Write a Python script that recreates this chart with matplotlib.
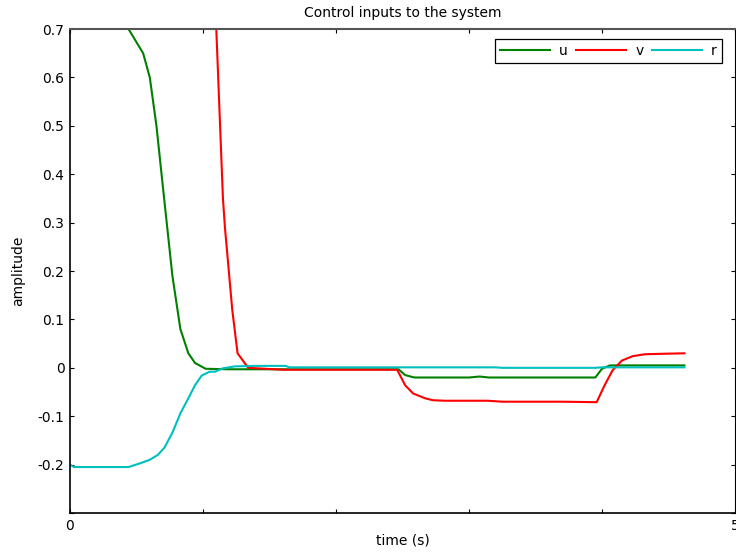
import numpy as np
import matplotlib.pyplot as plt

# control inputs
t_u = [0.0, 0.30, 0.44, 0.55, 0.60, 0.65, 0.70, 0.77, 0.83, 0.89, 0.94, 1.02, 1.20,
       2.47, 2.52, 2.59, 3.00, 3.08, 3.15, 3.95, 4.00, 4.06, 4.62]
u = [1.20, 0.85, 0.70, 0.65, 0.60, 0.50, 0.37, 0.19, 0.08, 0.03, 0.01, -0.002, -0.003,
     -0.003, -0.015, -0.020, -0.020, -0.018, -0.020, -0.020, -0.002, 0.005, 0.005]

t_v = [0.0, 0.90, 1.10, 1.15, 1.165, 1.22, 1.26, 1.34, 1.60,
       2.46, 2.52, 2.58, 2.67, 2.73, 2.82, 3.14, 3.25, 3.70, 3.96,
       4.02, 4.08, 4.15, 4.23, 4.32, 4.45, 4.62]
v = [2.50, 1.40, 0.70, 0.35, 0.29, 0.12, 0.03, 0.000, -0.004,
     -0.004, -0.036, -0.053, -0.063, -0.067, -0.068, -0.068, -0.070, -0.070, -0.071,
     -0.036, -0.005, 0.015, 0.024, 0.028, 0.029, 0.030]

t_r = [0.0, 0.03, 0.44, 0.53, 0.60, 0.66, 0.71, 0.77, 0.83, 0.89, 0.94, 0.99,
       1.05, 1.09, 1.15, 1.24, 1.39, 1.62, 1.65, 3.20, 3.25, 3.95, 4.00, 4.62]
r = [-0.200, -0.205, -0.205, -0.197, -0.190, -0.180, -0.165, -0.134, -0.094, -0.063,
     -0.036, -0.016, -0.008, -0.008, -0.001, 0.003, 0.004, 0.004, 0.001, 0.001,
     0.000, 0.000, 0.001, 0.001]

plt.rcParams['font.family'] = 'DejaVu Sans'
plt.rcParams['font.size'] = 10

fig = plt.figure(figsize=(7.36, 5.56), dpi=100)
ax = fig.add_axes([0.0951, 0.0773, 0.9035, 0.8705])

ax.plot(t_u, u, color='#008000', lw=1.5, label='u')
ax.plot(t_v, v, color='#ff0000', lw=1.5, label='v')
ax.plot(t_r, r, color='#00bfbf', lw=1.5, label='r')

ax.set_xlim(0, 5)
ax.set_ylim(-0.3, 0.7)
ax.set_xticks([0, 1, 2, 3, 4, 5])
ax.set_xticklabels(['0', '', '', '', '', '5'])
ax.set_yticks(np.round(np.arange(-0.3, 0.71, 0.1), 1))
ax.set_yticklabels(['', '-0.2', '-0.1', '0', '0.1', '0.2', '0.3', '0.4', '0.5', '0.6', '0.7'])
ax.tick_params(direction='in', top=True, right=True, length=3, width=0.8, pad=4,
               labelsize=10)

for s in ['left', 'bottom']:
    ax.spines[s].set_linewidth(1.2)
ax.spines['top'].set_color('#555555')
ax.spines['top'].set_linewidth(1.5)

ax.set_title('Control inputs to the system', fontsize=10, pad=9)
ax.set_xlabel('time (s)', fontsize=10, labelpad=1)
ax.set_ylabel('amplitude', fontsize=10, labelpad=9)

leg = ax.legend(ncol=3, loc='upper right', bbox_to_anchor=(0.980, 0.979),
                borderaxespad=0, fancybox=False, edgecolor='black', framealpha=1,
                handlelength=3.6, columnspacing=0.6, borderpad=0.35,
                handletextpad=0.65, fontsize=10)
leg.get_frame().set_linewidth(0.9)

fig.savefig('out.png', dpi=100)
